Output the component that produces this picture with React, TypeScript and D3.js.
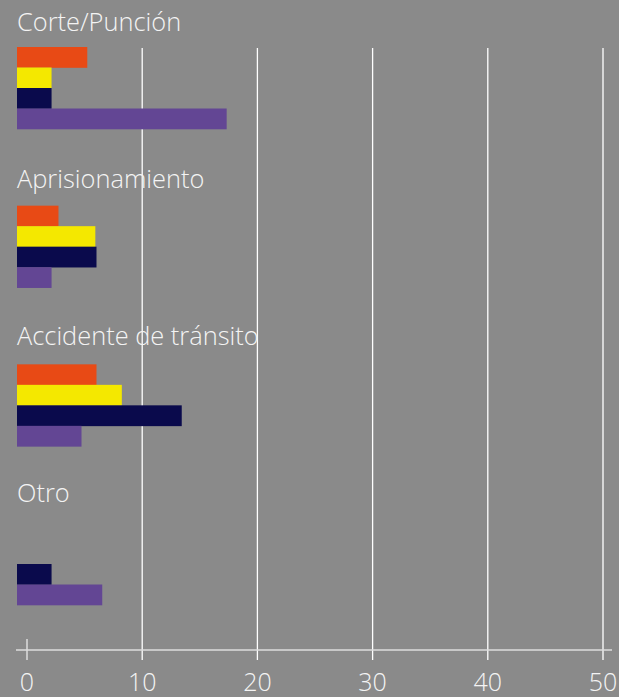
import React from "react";
import * as d3 from "d3";

const categories = ["Corte/Punción", "Aprisionamiento", "Accidente de tránsito", "Otro"];
const seriesKeys = ["s1", "s2", "s3", "s4"];
const seriesColors = ["#E84A15", "#F4E800", "#0A0A4C", "#634694"];
const s1 = [6.1, 3.6, 6.9, 0];
const s2 = [3.0, 6.8, 9.1, 0];
const s3 = [3.0, 6.9, 14.3, 3.0];
const s4 = [18.2, 3.0, 5.6, 7.4];
const seriesValues = [s1, s2, s3, s4];
const ticks = [0, 10, 20, 30, 40, 50];

const W = 619;
const H = 697;
const FONT = "'Open Sans', 'DejaVu Sans', sans-serif";

export default function App() {
  const xAxis = d3.scaleLinear().domain([0, 50]).range([27, 603]);
  const xBar = d3.scaleLinear().domain([0, 50]).range([17, 593]);
  const y = d3.scaleBand().domain(categories).range([47, 47 + 4 * 158.67]).paddingInner(0).paddingOuter(0);
  const labelY = d3.scaleLinear().domain([0, categories.length - 1]).range([31, 502]);
  const yInner = d3.scaleBand().domain(seriesKeys).range([0, 82]).padding(0);
  const axisY = 650;

  return (
    <svg width={W} height={H} style={{ position: "absolute", left: 0, top: 0, background: "#8A8A8A" }}>
      <rect x={0} y={0} width={W} height={H} fill="#8A8A8A" />
      {ticks.filter((t) => t > 0).map((t) => (
        <line key={"g" + t} x1={xAxis(t)} x2={xAxis(t)} y1={48} y2={660} stroke="#FFFFFF" strokeWidth={1.3} />
      ))}
      {categories.map((c, ci) => (
        <g key={c}>
          <text x={17} y={labelY(ci)} fill="#F4F4F4" fontFamily={FONT} fontWeight={300} fontSize={25.4}>
            {c}
          </text>
          <g transform={`translate(0,${y(c)})`}>
            {seriesKeys.map((k, si) => {
              const v = seriesValues[si][ci];
              if (!v) return null;
              return (
                <rect
                  key={k}
                  x={xBar(0)}
                  y={yInner(k)}
                  width={xBar(v) - xBar(0)}
                  height={yInner.bandwidth() + 0.3}
                  fill={seriesColors[si]}
                />
              );
            })}
          </g>
        </g>
      ))}
      <line x1={16} x2={612} y1={axisY} y2={axisY} stroke="#DDDDDD" strokeWidth={1.5} />
      <line x1={xAxis(0)} x2={xAxis(0)} y1={639} y2={660} stroke="#DDDDDD" strokeWidth={1.5} />
      {ticks.map((t) => (
        <text
          key={"t" + t}
          x={xAxis(t)}
          y={691}
          textAnchor="middle"
          fill="#F4F4F4"
          fontFamily={FONT}
          fontWeight={300}
          fontSize={25}
        >
          {t}
        </text>
      ))}
    </svg>
  );
}
